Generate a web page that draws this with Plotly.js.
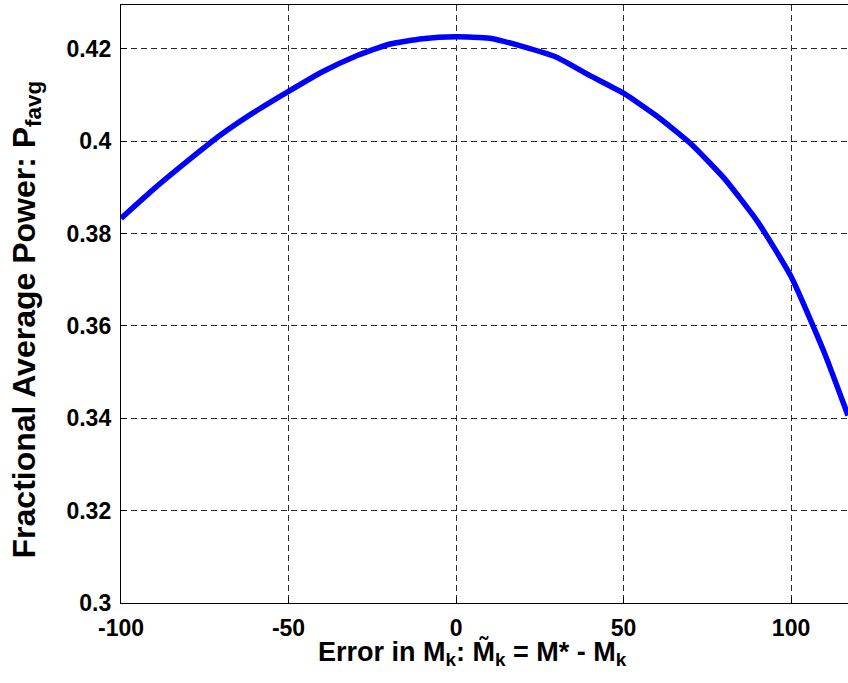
<!DOCTYPE html>
<html>
<head>
<meta charset="utf-8">
<script src="https://cdn.plot.ly/plotly-3.0.1.min.js"></script>
<style>html,body{margin:0;padding:0;overflow:hidden;background:#fff;}</style>
</head>
<body>
<div id="chart" style="width:848px;height:683px;"></div>
<script>
// Data
const errorMk = [-100, -90, -80, -70, -60, -50, -40, -30, -20, -10, 0, 10, 20, 30, 40, 50, 60, 70, 80, 90, 100, 110, 117];
const powerFavg = [0.3833, 0.3898, 0.3958, 0.4015, 0.4064, 0.4108, 0.4150, 0.4184, 0.4210, 0.4222, 0.4226, 0.4223, 0.4205, 0.4182, 0.4142, 0.4104, 0.4054, 0.3995, 0.3920, 0.3826, 0.3707, 0.3541, 0.3406];
const xTickVals = [-100, -50, 0, 50, 100];
const xTickText = ['-100', '-50', '0', '50', '100'];
const yTickVals = [0.3, 0.32, 0.34, 0.36, 0.38, 0.4, 0.42];
const yTickText = ['0.3', '0.32', '0.34', '0.36', '0.38', '0.4', '0.42'];
const xTitle = 'Error in M<sub>k</sub>: M\u0303<sub>k</sub> = M* - M<sub>k</sub>';
const yTitle = 'Fractional Average Power: P<sub>favg</sub>';

const fontFam = 'Liberation Sans, Arial, Helvetica, sans-serif';

const trace = {
  x: errorMk,
  y: powerFavg,
  type: 'scatter',
  mode: 'lines',
  line: {color: '#0000ff', width: 5.5, shape: 'spline', smoothing: 0.5},
  hoverinfo: 'skip'
};

const commonAxis = {
  tickmode: 'array',
  showgrid: true,
  gridcolor: '#2a2a2a',
  gridwidth: 1,
  griddash: '6px,4px',
  zeroline: false,
  showline: true,
  linecolor: '#000000',
  linewidth: 1.2,
  ticks: 'inside',
  ticklen: 6,
  tickcolor: '#000000',
  ticklabelstandoff: 4,
  tickfont: {family: fontFam, size: 23, color: '#000000', weight: 'bold'},
  automargin: false
};

const layout = {
  width: 848,
  height: 683,
  margin: {l: 121, r: 0, t: 5, b: 80},
  paper_bgcolor: '#ffffff',
  plot_bgcolor: '#ffffff',
  showlegend: false,
  xaxis: Object.assign({}, commonAxis, {
    range: [-100, 117],
    tickvals: xTickVals,
    ticktext: xTickText,
    mirror: true
  }),
  yaxis: Object.assign({}, commonAxis, {
    range: [0.3, 0.4295],
    tickvals: yTickVals,
    ticktext: yTickText,
    mirror: false
  }),
  annotations: [
    {
      text: xTitle,
      xref: 'paper', yref: 'paper',
      x: 0.484, y: -0.052,
      xanchor: 'center', yanchor: 'top',
      showarrow: false,
      font: {family: fontFam, size: 27, color: '#000000', weight: 'bold'}
    },
    {
      text: yTitle,
      xref: 'paper', yref: 'paper',
      x: -0.13, y: 0.475,
      xanchor: 'center', yanchor: 'middle',
      textangle: -90,
      showarrow: false,
      font: {family: fontFam, size: 32, color: '#000000', weight: 'bold'}
    }
  ]
};

Plotly.newPlot('chart', [trace], layout, {displayModeBar: false, staticPlot: true});
</script>
</body>
</html>
